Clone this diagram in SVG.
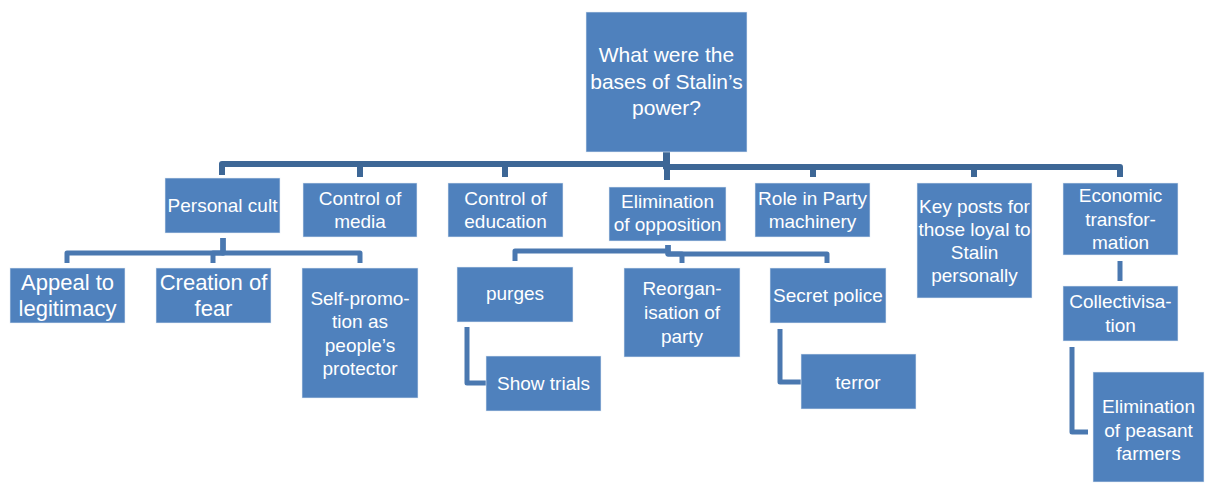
<svg xmlns="http://www.w3.org/2000/svg" width="1205" height="483" viewBox="0 0 1205 483">
<style>
.box{fill:#4F81BD;stroke:#e8eef6;stroke-opacity:0.6;stroke-width:1}
.t{font-family:"Liberation Sans",Arial,sans-serif;fill:#fff;text-anchor:middle;font-size:19px}
.big{font-size:22px}
.root{font-size:21px}
.c1{fill:none;stroke:#3D6796;stroke-width:6;stroke-linejoin:round}
.c2{fill:none;stroke:#4A78B0;stroke-width:5;stroke-linejoin:round}
</style>
<rect width="1205" height="483" fill="#fff"/>
<g id="connectors">
<path class="c1" d="M666,152 V164 H222 V175"/>
<path class="c1" d="M666,152 V164 H360 V177"/>
<path class="c1" d="M666,152 V164 H505 V177"/>
<path class="c1" d="M667,152 V180"/>
<path class="c1" d="M666,152 V167 H813 V177"/>
<path class="c1" d="M666,152 V167 H974 V177"/>
<path class="c1" d="M666,152 V167 H1120 V177"/>
<path class="c2" d="M223,238 V253 H67 V263"/>
<path class="c2" d="M223,238 V253 H213 V263"/>
<path class="c2" d="M223,238 V253 H360 V263"/>
<path class="c2" d="M668,245 V251 H515 V261"/>
<path class="c2" d="M668,245 V254 H682 V263"/>
<path class="c2" d="M668,245 V254 H827 V263"/>
<path class="c2" d="M467,327 V383 H486"/>
<path class="c2" d="M780,329 V382 H801"/>
<path class="c2" d="M1120,261 V281"/>
<path class="c2" d="M1072,347 V432 H1088"/>
</g>
<g id="root">
<rect class="box" x="586" y="12" width="161" height="140"/>
<text class="t root" x="666.5" y="62">What were the</text>
<text class="t root" x="666.5" y="89">bases of Stalin’s</text>
<text class="t root" x="666.5" y="115">power?</text>
</g>
<g id="personal-cult">
<rect class="box" x="165" y="178" width="115" height="55"/>
<text class="t" x="222.5" y="212">Personal cult</text>
</g>
<g id="control-media">
<rect class="box" x="303" y="183" width="114" height="54"/>
<text class="t" x="360" y="205">Control of</text>
<text class="t" x="360" y="228">media</text>
</g>
<g id="control-education">
<rect class="box" x="448" y="183" width="115" height="54"/>
<text class="t" x="505.5" y="205">Control of</text>
<text class="t" x="505.5" y="228">education</text>
</g>
<g id="elimination-opposition">
<rect class="box" x="609" y="187" width="117" height="54"/>
<text class="t" x="667.5" y="208">Elimination</text>
<text class="t" x="667.5" y="231">of opposition</text>
</g>
<g id="role-party">
<rect class="box" x="755" y="183" width="115" height="54"/>
<text class="t" x="812.5" y="205">Role in Party</text>
<text class="t" x="812.5" y="228">machinery</text>
</g>
<g id="key-posts">
<rect class="box" x="917" y="183" width="115" height="115"/>
<text class="t" x="974.5" y="213">Key posts for</text>
<text class="t" x="974.5" y="236">those loyal to</text>
<text class="t" x="974.5" y="259">Stalin</text>
<text class="t" x="974.5" y="282">personally</text>
</g>
<g id="economic">
<rect class="box" x="1063" y="183" width="115" height="72"/>
<text class="t" x="1120.5" y="202">Economic</text>
<text class="t" x="1120.5" y="226">transfor-</text>
<text class="t" x="1120.5" y="249">mation</text>
</g>
<g id="appeal">
<rect class="box" x="10" y="268" width="115" height="55"/>
<text class="t big" x="67.5" y="290">Appeal to</text>
<text class="t big" x="67.5" y="316">legitimacy</text>
</g>
<g id="creation-fear">
<rect class="box" x="156" y="268" width="115" height="55"/>
<text class="t big" x="213.5" y="290">Creation of</text>
<text class="t big" x="213.5" y="316">fear</text>
</g>
<g id="self-promotion">
<rect class="box" x="302" y="268" width="116" height="130"/>
<text class="t" x="360" y="305">Self-promo-</text>
<text class="t" x="360" y="328">tion as</text>
<text class="t" x="360" y="352">people’s</text>
<text class="t" x="360" y="375">protector</text>
</g>
<g id="purges">
<rect class="box" x="457" y="267" width="116" height="55"/>
<text class="t" x="515" y="300">purges</text>
</g>
<g id="reorganisation">
<rect class="box" x="624" y="268" width="116" height="89"/>
<text class="t" x="682" y="295">Reorgan-</text>
<text class="t" x="682" y="319">isation of</text>
<text class="t" x="682" y="343">party</text>
</g>
<g id="secret-police">
<rect class="box" x="770" y="268" width="116" height="55"/>
<text class="t" x="828" y="302">Secret police</text>
</g>
<g id="show-trials">
<rect class="box" x="486" y="356" width="115" height="55"/>
<text class="t" x="543.5" y="390">Show trials</text>
</g>
<g id="terror">
<rect class="box" x="801" y="354" width="115" height="55"/>
<text class="t" x="858" y="389">terror</text>
</g>
<g id="collectivisation">
<rect class="box" x="1063" y="286" width="115" height="55"/>
<text class="t" x="1120.5" y="308">Collectivisa-</text>
<text class="t" x="1120.5" y="332">tion</text>
</g>
<g id="elimination-peasant">
<rect class="box" x="1093" y="372" width="111" height="110"/>
<text class="t" x="1148.5" y="413">Elimination</text>
<text class="t" x="1148.5" y="437">of peasant</text>
<text class="t" x="1148.5" y="460">farmers</text>
</g>
</svg>
